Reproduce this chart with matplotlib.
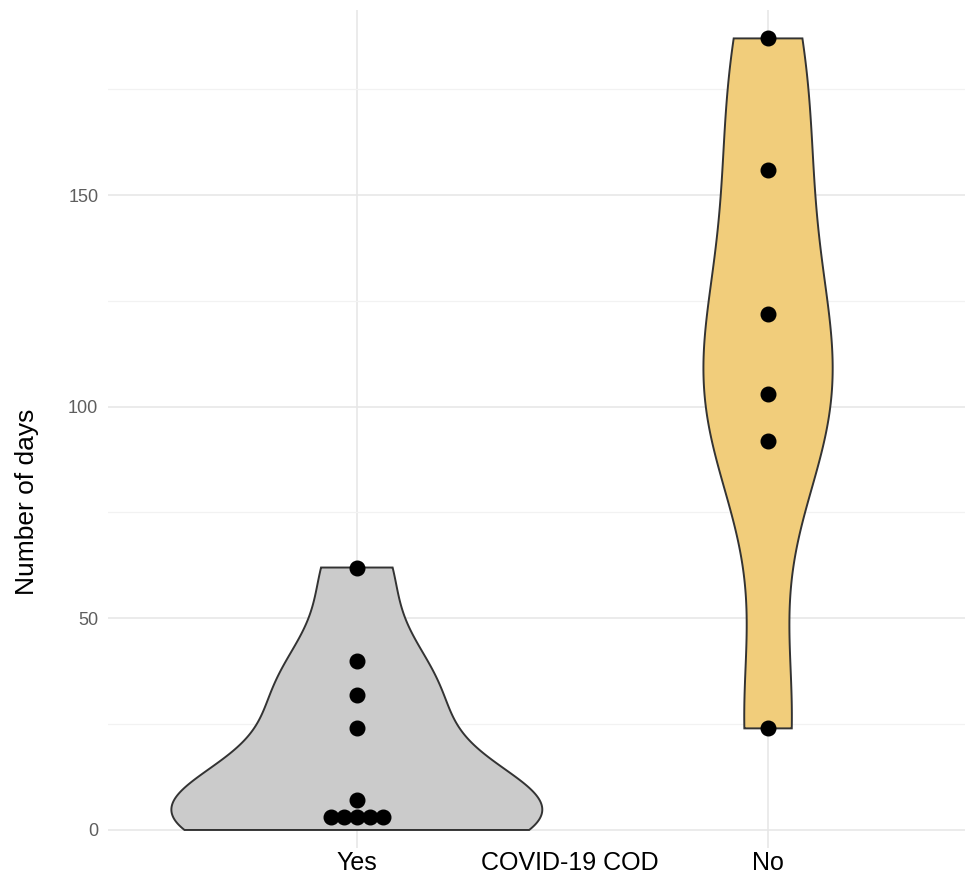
import numpy as np
import matplotlib
matplotlib.use("Agg")
import matplotlib.pyplot as plt

plt.rcParams['font.family'] = ['Liberation Sans', 'DejaVu Sans']

# Data
groups = ["Yes", "No"]
yes_days = [0, 2, 3, 4, 6, 7, 24, 32, 40, 62]
no_days = [24, 92, 103, 122, 156, 187]
fill_colors = ["#cbcbcb", "#f1cd7b"]
y_ticks = [0, 50, 100, 150]
y_minor = [25, 75, 125, 175]


###########################################################
# Helpers (R-like density / dotplot binning)
def bw_nrd0(x):
    x = np.asarray(x, dtype=float)
    sd = np.std(x, ddof=1)
    iqr = np.subtract(*np.percentile(x, [75, 25]))
    lo = min(sd, iqr / 1.34)
    if lo == 0:
        lo = sd
    return 0.9 * lo * len(x) ** (-0.2)


def density(x, n=512):
    x = np.asarray(x, dtype=float)
    bw = bw_nrd0(x)
    grid = np.linspace(x.min(), x.max(), n)
    d = np.exp(-0.5 * ((grid[:, None] - x[None, :]) / bw) ** 2).sum(axis=1)
    d /= (len(x) * bw * np.sqrt(2 * np.pi))
    return grid, d


def dot_bins(x, binwidth):
    # dotdensity style binning: bin starts at first value, center = mid of range
    x = sorted(x)
    bins = []
    cur = [x[0]]
    for v in x[1:]:
        if v - cur[0] < binwidth:
            cur.append(v)
        else:
            bins.append(cur)
            cur = [v]
    bins.append(cur)
    return [((b[0] + b[-1]) / 2.0, len(b)) for b in bins]


###########################################################
# Plot
fig = plt.figure(figsize=(9.69, 8.81), dpi=100)
ax = fig.add_axes([0.1115, 0.0375, 0.8844, 0.9511])

data = [yes_days, no_days]
dens = [density(d) for d in data]
dmax = max(d.max() for _, d in dens)

for i, ((grid, d), col) in enumerate(zip(dens, fill_colors)):
    pos = i + 1
    half = d / dmax * 0.451
    xs = np.concatenate([pos - half, (pos + half)[::-1]])
    ys = np.concatenate([grid, grid[::-1]])
    ax.fill(xs, ys, facecolor=col, edgecolor="#333333", linewidth=1.4, zorder=2)

# dots
dot_step = 0.032
for i, d in enumerate(data):
    pos = i + 1
    for center, count in dot_bins(d, 7):
        offs = (np.arange(count) - (count - 1) / 2.0) * dot_step
        ax.plot(pos + offs, [center] * count, "o", color="black",
                markersize=10.5, zorder=3)

ax.set_xlim(0.395, 2.479)
ax.set_ylim(-4.25, 193.7)

ax.set_xticks([1, 2])
ax.set_xticklabels(groups, fontsize=18, color="black")
ax.set_yticks(y_ticks)
ax.set_yticklabels([str(v) for v in y_ticks], fontsize=13, color="#5e5e5e")
ax.set_yticks(y_minor, minor=True)
ax.tick_params(axis="both", which="both", length=0)
ax.tick_params(axis="x", pad=2)
ax.tick_params(axis="y", pad=7)

ax.grid(True, which="major", color="#e6e6e6", linewidth=1.1, zorder=0)
ax.grid(True, which="minor", axis="y", color="#f2f2f2", linewidth=0.9, zorder=0)
ax.set_axisbelow(True)
for s in ax.spines.values():
    s.set_visible(False)

ax.set_xlabel("COVID-19 COD", fontsize=18)
ax.xaxis.set_label_coords(0.539, -0.0036)
ax.set_ylabel("Number of days", fontsize=19, va="center")
ax.yaxis.set_label_coords(-0.095, 0.413)

fig.savefig("out.png", dpi=100)
